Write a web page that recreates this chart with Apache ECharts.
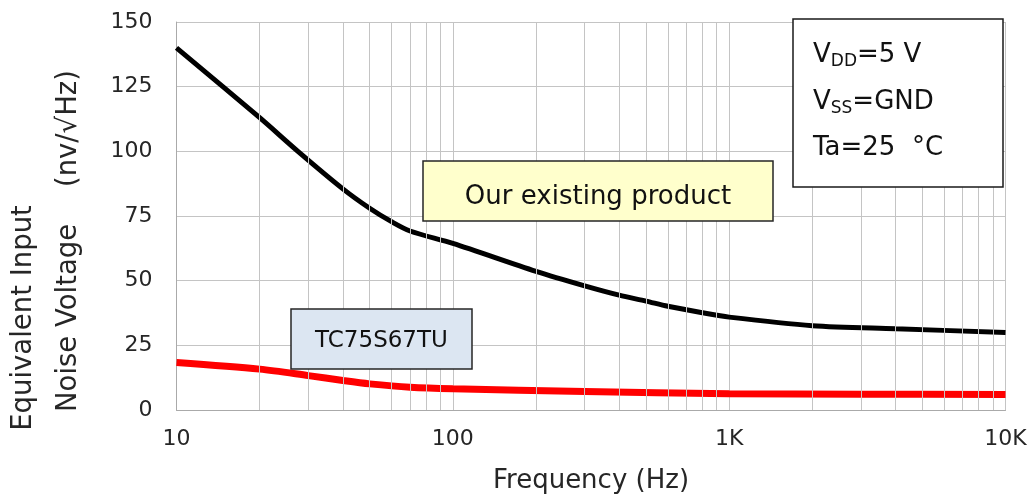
<!DOCTYPE html>
<html><head><meta charset="utf-8">
<script src="https://cdn.jsdelivr.net/npm/echarts@6/dist/echarts.min.js"></script>
<style>html,body{margin:0;padding:0;background:#fff}#c{width:1033px;height:499px}</style>
</head><body><div id="c"></div>
<script>
// ---- data ----
const existingFreqs = [10, 20, 27.5, 40, 50, 60, 70, 100, 200, 300, 400, 500, 600, 800, 1000, 2000, 4000, 10000];
const existingNoise = [140, 113, 100, 85.5, 78, 72.8, 69.2, 64.4, 53.6, 48, 44.4, 42.1, 40.1, 37.6, 35.9, 32.6, 31.4, 30];
const tcFreqs = [10, 20, 30, 40, 50, 70, 100, 300, 1000, 3000, 10000];
const tcNoise = [18.4, 15.8, 13.3, 11.4, 10.1, 8.8, 8.2, 7.2, 6.3, 6.1, 6];
const xTickLabels = {10: '10', 100: '100', 1000: '1K', 10000: '10K'};
const minorFreqs = [20,30,40,50,60,70,80,90,200,300,400,500,600,700,800,900,2000,3000,4000,5000,6000,7000,8000,9000];
const yMin = 0, yMax = 150, yStep = 25;

const FONT = '"DejaVu Sans", Verdana, sans-serif';
const TXT = '#262626';
const GRIDC = '#c4c4c4';

const chart = echarts.init(document.getElementById('c'), null, {renderer: 'canvas'});
const subRich = {
  a: {fontFamily: FONT, fontSize: 26, lineHeight: 30},
  s: {fontFamily: FONT, fontSize: 17, lineHeight: 30, verticalAlign: 'bottom', padding: [8, 0, 0, 0]}
};
chart.setOption({
  animation: false,
  backgroundColor: '#fff',
  grid: {left: 176.5, right: 27.5, top: 22, bottom: 86, containLabel: false},
  xAxis: {
    type: 'log', logBase: 10, min: 10, max: 10000,
    axisLine: {show: true, lineStyle: {color: '#aaaaaa', width: 1}},
    axisTick: {show: false},
    splitLine: {show: true, lineStyle: {color: GRIDC, width: 1}},
    axisLabel: {
      color: TXT, fontFamily: FONT, fontSize: 22, margin: 18,
      formatter: v => xTickLabels[Math.round(v)] || ''
    },
    name: 'Frequency (Hz)', nameLocation: 'middle', nameGap: 58,
    nameTextStyle: {color: TXT, fontFamily: FONT, fontSize: 26}
  },
  yAxis: {
    type: 'value', min: yMin, max: yMax, interval: yStep,
    axisLine: {show: true, lineStyle: {color: '#aaaaaa', width: 1}},
    axisTick: {show: false},
    splitLine: {show: true, lineStyle: {color: GRIDC, width: 1}},
    axisLabel: {color: TXT, fontFamily: FONT, fontSize: 22, margin: 24}
  },
  series: [
    {
      type: 'line', data: [], z: 1, silent: true,
      markLine: {
        silent: true, symbol: 'none', animation: false,
        label: {show: false},
        lineStyle: {color: GRIDC, width: 1, type: 'solid'},
        data: minorFreqs.map(f => ({xAxis: f}))
      }
    },
    {
      name: 'Our existing product', type: 'line', z: 3,
      data: existingFreqs.map((f, i) => [f, existingNoise[i]]),
      smooth: 0.3, showSymbol: false,
      lineStyle: {color: '#000', width: 5}
    },
    {
      name: 'TC75S67TU', type: 'line', z: 3,
      data: tcFreqs.map((f, i) => [f, tcNoise[i]]),
      smooth: 0.3, showSymbol: false,
      lineStyle: {color: '#ff0000', width: 7}
    }
  ],
  graphic: [
    // y axis names
    {type: 'text', x: 24, y: 318, rotation: Math.PI / 2, z: 10,
      style: {text: 'Equivalent Input', font: '27.5px ' + FONT, fill: TXT, align: 'center', verticalAlign: 'middle'}},
    {type: 'text', x: 69, y: 241, rotation: Math.PI / 2, z: 10,
      style: {text: 'Noise Voltage\u3000 (nv/\u221AHz)', font: '27.5px ' + FONT, fill: TXT, align: 'center', verticalAlign: 'middle'}},
    // existing product label
    {type: 'rect', z: 10, shape: {x: 423, y: 161, width: 350, height: 60},
      style: {fill: '#ffffcc', stroke: '#262626', lineWidth: 1.5}},
    {type: 'text', z: 11, x: 598, y: 197,
      style: {text: 'Our existing product', font: '26px ' + FONT, fill: '#111', align: 'center', verticalAlign: 'middle'}},
    // TC75S67TU label
    {type: 'rect', z: 10, shape: {x: 291, y: 309, width: 181, height: 60},
      style: {fill: '#dce6f2', stroke: '#262626', lineWidth: 1.5}},
    {type: 'text', z: 11, x: 381.5, y: 341,
      style: {text: 'TC75S67TU', font: '23px ' + FONT, fill: '#111', align: 'center', verticalAlign: 'middle'}},
    // conditions box
    {type: 'rect', z: 10, shape: {x: 793, y: 19, width: 210, height: 168},
      style: {fill: '#fff', stroke: '#1a1a1a', lineWidth: 1.5}},
    {type: 'text', z: 11, x: 813, y: 55,
      style: {text: '{a|V}{s|DD}{a|=5 V}', fill: '#111', verticalAlign: 'middle', rich: subRich}},
    {type: 'text', z: 11, x: 813, y: 102,
      style: {text: '{a|V}{s|SS}{a|=GND}', fill: '#111', verticalAlign: 'middle', rich: subRich}},
    {type: 'text', z: 11, x: 813, y: 148,
      style: {text: 'Ta=25  \u00B0C', font: '26px ' + FONT, fill: '#111', verticalAlign: 'middle'}}
  ]
});
</script>
</body></html>
